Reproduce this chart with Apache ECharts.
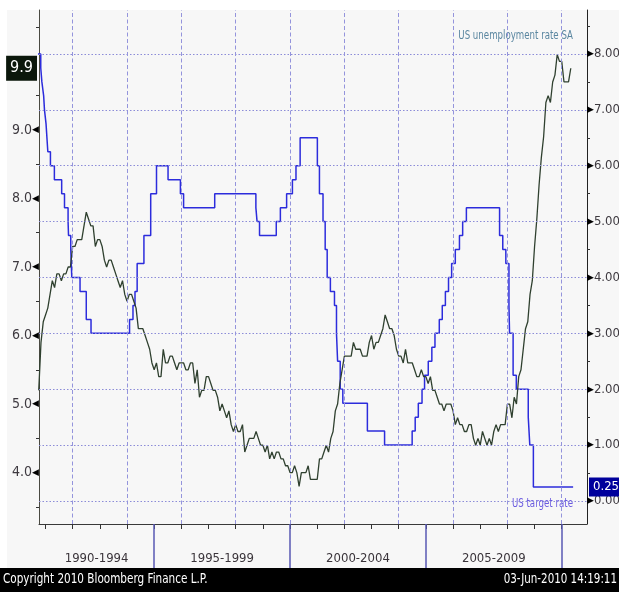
<!DOCTYPE html>
<html><head><meta charset="utf-8">
<script src="https://cdn.jsdelivr.net/npm/echarts@6/dist/echarts.min.js"></script>
<style>html,body{margin:0;padding:0;background:#fff}#c{width:619px;height:592px}</style>
</head><body><div id="c"></div>
<script>
// ---- data ----
const unemploymentStart = [1990, 9]; // first plotted month (month-end positions)
const unemploymentRate = [
  5.2, 5.9, 6.2, 6.3,
  6.4, 6.6, 6.8, 6.7, 6.9, 6.9, 6.8, 6.9, 6.9, 7.0, 7.0, 7.3,
  7.3, 7.4, 7.4, 7.4, 7.6, 7.8, 7.7, 7.6, 7.6, 7.3, 7.4, 7.4,
  7.3, 7.1, 7.0, 7.1, 7.1, 7.0, 6.9, 6.8, 6.7, 6.8, 6.6, 6.5,
  6.6, 6.6, 6.5, 6.4, 6.1, 6.1, 6.1, 6.0, 5.9, 5.8, 5.6, 5.5,
  5.6, 5.4, 5.4, 5.8, 5.6, 5.6, 5.7, 5.7, 5.6, 5.5, 5.6, 5.6,
  5.6, 5.5, 5.5, 5.6, 5.6, 5.3, 5.5, 5.1, 5.2, 5.2, 5.4, 5.4,
  5.3, 5.2, 5.2, 5.1, 4.9, 5.0, 4.9, 4.8, 4.9, 4.7, 4.6, 4.7,
  4.6, 4.6, 4.7, 4.3, 4.4, 4.5, 4.5, 4.5, 4.6, 4.5, 4.4, 4.4,
  4.3, 4.4, 4.2, 4.3, 4.2, 4.3, 4.3, 4.2, 4.2, 4.1, 4.1, 4.0,
  4.0, 4.1, 4.0, 3.8, 4.0, 4.0, 4.0, 4.1, 3.9, 3.9, 3.9, 3.9,
  4.2, 4.2, 4.3, 4.4, 4.3, 4.5, 4.6, 4.9, 5.0, 5.3, 5.5, 5.7,
  5.7, 5.7, 5.7, 5.9, 5.8, 5.8, 5.8, 5.7, 5.7, 5.7, 5.9, 6.0,
  5.8, 5.9, 5.9, 6.0, 6.1, 6.3, 6.2, 6.1, 6.1, 6.0, 5.8, 5.7,
  5.7, 5.6, 5.8, 5.6, 5.6, 5.6, 5.5, 5.4, 5.4, 5.5, 5.4, 5.4,
  5.3, 5.4, 5.2, 5.2, 5.1, 5.0, 5.0, 4.9, 5.0, 5.0, 5.0, 4.9,
  4.7, 4.8, 4.7, 4.7, 4.6, 4.6, 4.7, 4.7, 4.5, 4.4, 4.5, 4.4,
  4.6, 4.5, 4.4, 4.5, 4.4, 4.6, 4.7, 4.6, 4.7, 4.7, 4.7, 5.0,
  5.0, 4.8, 5.1, 5.0, 5.4, 5.5, 5.8, 6.1, 6.2, 6.6, 6.8, 7.3,
  7.7, 8.2, 8.6, 8.9, 9.4, 9.5, 9.4, 9.7, 9.8, 10.1, 10.0, 10.0,
  9.7, 9.7, 9.7, 9.9
];
const targetDates = [
  '1990-07-13','1990-10-29','1990-11-13','1990-12-07','1990-12-18','1991-01-08','1991-02-01','1991-03-08',
  '1991-04-30','1991-08-06','1991-09-13','1991-10-31','1991-11-06','1991-12-06','1991-12-20','1992-04-09',
  '1992-07-02','1992-09-04','1994-02-04','1994-03-22','1994-04-18','1994-05-17','1994-08-16','1994-11-15',
  '1995-02-01','1995-07-06','1995-12-19','1996-01-31','1997-03-25','1998-09-29','1998-10-15','1998-11-17',
  '1999-06-30','1999-08-24','1999-11-16','2000-02-02','2000-03-21','2000-05-16','2001-01-03','2001-01-31',
  '2001-03-20','2001-04-18','2001-05-15','2001-06-27','2001-08-21','2001-09-17','2001-10-02','2001-11-06',
  '2001-12-11','2002-11-06','2003-06-25','2004-06-30','2004-08-10','2004-09-21','2004-11-10','2004-12-14',
  '2005-02-02','2005-03-22','2005-05-03','2005-06-30','2005-08-09','2005-09-20','2005-11-01','2005-12-13',
  '2006-01-31','2006-03-28','2006-05-10','2006-06-29','2007-09-18','2007-10-31','2007-12-11','2008-01-22',
  '2008-01-30','2008-03-18','2008-04-30','2008-10-08','2008-10-29','2008-12-16','2010-06-03'
];
const targetRates = [
  8.00, 7.75, 7.50, 7.25, 7.00, 6.75, 6.25, 6.00,
  5.75, 5.50, 5.25, 5.00, 4.75, 4.50, 4.00, 3.75,
  3.25, 3.00, 3.25, 3.50, 3.75, 4.25, 4.75, 5.50,
  6.00, 5.75, 5.50, 5.25, 5.50, 5.25, 5.00, 4.75,
  5.00, 5.25, 5.50, 5.75, 6.00, 6.50, 6.00, 5.50,
  5.00, 4.50, 4.00, 3.75, 3.50, 3.00, 2.50, 2.00,
  1.75, 1.25, 1.00, 1.25, 1.50, 1.75, 2.00, 2.25,
  2.50, 2.75, 3.00, 3.25, 3.50, 3.75, 4.00, 4.25,
  4.50, 4.75, 5.00, 5.25, 4.75, 4.50, 4.25, 3.50,
  3.00, 2.25, 2.00, 1.50, 1.00, 0.25, 0.25
];
const lastUnemployment = 9.9;
const lastTarget = 0.25;
const leftLabelValues = [4, 5, 6, 7, 8, 9];
const leftMinorTicks = [3.5, 4.5, 5.5, 6.5, 7.5, 8.5, 9.5, 10.5];
const rightLabelValues = [0, 1, 2, 3, 4, 5, 6, 7, 8];
const rightMinorTicks = [0.5, 1.5, 2.5, 3.5, 4.5, 5.5, 6.5, 7.5, 8.5];
const yearTicks = [1991,1992,1993,1994,1995,1996,1997,1998,1999,2000,2001,2002,2003,2004,2005,2006,2007,2008,2009,2010];
const gridYears = [1992,1994,1996,1998,2000,2002,2004,2006,2008,2010];
const periodLabels = ['1990-1994', '1995-1999', '2000-2004', '2005-2009'];
const periodBounds = [1995, 2000, 2005, 2010];
const xRange = [1990.76, 2010.93];
const leftRange = [3.25, 10.75];
const rightRange = [-0.4125, 8.7875];

// ---- build ----
const FONT = "'DejaVu Sans Condensed','Liberation Sans Narrow',sans-serif";
function decYear(s) {
  const [y, m, d] = s.split('-').map(Number);
  const t0 = Date.UTC(y, 0, 1), t1 = Date.UTC(y + 1, 0, 1);
  return y + (Date.UTC(y, m - 1, d) - t0) / (t1 - t0);
}
const unempData = unemploymentRate.map((v, i) => {
  const mIdx = unemploymentStart[1] + i;
  return [unemploymentStart[0] + mIdx / 12, v];
});
const targetData = targetDates.map((d, i) => [decYear(d), targetRates[i]]);
const bounds = [xRange[0]].concat(periodBounds);
const periodCenters = periodLabels.map((_, i) => (bounds[i] + bounds[i + 1]) / 2);

const chart = echarts.init(document.getElementById('c'), null, {renderer: 'canvas'});
chart.setOption({
  animation: false,
  backgroundColor: '#f7f7f7',
  grid: {left: 39, right: 32, top: 10, bottom: 68, containLabel: false, outerBoundsMode: 'none'},
  xAxis: [{
    type: 'value', min: xRange[0], max: xRange[1], position: 'bottom',
    axisLine: {show: true, onZero: false, lineStyle: {color: '#3a3a3a', width: 1}},
    axisTick: {show: true, customValues: yearTicks, length: 5, lineStyle: {color: '#333'}},
    axisLabel: {show: true, customValues: periodCenters, margin: 28,
      formatter: v => { const i = periodCenters.findIndex(c => Math.abs(c - v) < 1e-3); return i >= 0 ? periodLabels[i] : ''; },
      fontSize: 13, color: '#3a343a', fontFamily: FONT},
    splitLine: {show: false}
  }, {
    type: 'value', min: xRange[0], max: xRange[1], position: 'bottom',
    axisLine: {show: false, onZero: false},
    axisTick: {show: true, customValues: periodBounds, length: 44, lineStyle: {color: '#5a5ab4', width: 1.5}},
    axisLabel: {show: false},
    splitLine: {show: false}
  }],
  yAxis: [{
    type: 'value', min: leftRange[0], max: leftRange[1], position: 'left',
    axisLine: {show: true, onZero: false, lineStyle: {color: '#4a4a42', width: 1}},
    axisTick: {show: true, customValues: leftMinorTicks, length: 3, lineStyle: {color: '#333'}},
    axisLabel: {show: true, customValues: leftLabelValues, margin: 0,
      formatter: v => '{t|' + v.toFixed(1) + '}{a|◀}',
      rich: {t: {fontSize: 14, color: '#3e3a40', fontFamily: FONT, verticalAlign: 'middle'},
             a: {fontSize: 9, color: '#000', fontFamily: 'DejaVu Sans', verticalAlign: 'middle'}}},
    splitLine: {show: false}
  }, {
    type: 'value', min: rightRange[0], max: rightRange[1], position: 'right',
    axisLine: {show: true, onZero: false, lineStyle: {color: '#222', width: 1}},
    axisTick: {show: true, customValues: rightMinorTicks, length: 3, lineStyle: {color: '#333'}},
    axisLabel: {show: true, customValues: rightLabelValues, margin: 0,
      formatter: v => '{a|▶}{t|' + v.toFixed(2) + '}',
      rich: {t: {fontSize: 13, color: '#3e3a40', fontFamily: FONT, verticalAlign: 'middle'},
             a: {fontSize: 9, color: '#000', fontFamily: 'DejaVu Sans', verticalAlign: 'middle'}}},
    splitLine: {show: false}
  }],
  series: [{
    name: 'grid', type: 'line', data: [], xAxisIndex: 0, yAxisIndex: 1, z: 1,
    markLine: {
      silent: true, symbol: ['none', 'none'], animation: false,
      label: {show: false},
      data: rightLabelValues.map(v => ({yAxis: v, lineStyle: {color: '#8c8cd8', width: 1.2, type: [1.5, 2]}}))
        .concat(gridYears.map(v => ({xAxis: v, lineStyle: {color: '#9494dc', width: 1, type: [4, 2.5]}})))
    }
  }, {
    name: 'US target rate', type: 'line', step: 'end', data: targetData,
    xAxisIndex: 0, yAxisIndex: 1, showSymbol: false, clip: true, z: 3,
    lineStyle: {color: '#2c2cdc', width: 1.5},
    markLine: {
      silent: true, symbol: ['none', 'none'], animation: false,
      lineStyle: {color: 'rgba(0,0,0,0)', width: 0},
      label: {show: true, position: 'end', distance: 2, formatter: lastTarget.toFixed(2),
        backgroundColor: '#00009c', color: '#fff', fontSize: 13, fontFamily: FONT, padding: [3, 8, 3, 4]},
      data: [{yAxis: lastTarget}]
    }
  }, {
    name: 'US unemployment rate SA', type: 'line', data: unempData,
    xAxisIndex: 0, yAxisIndex: 0, showSymbol: false, clip: true, z: 4,
    lineStyle: {color: '#2f402f', width: 1.3},
    markLine: {
      silent: true, symbol: ['none', 'none'], animation: false,
      lineStyle: {color: 'rgba(0,0,0,0)', width: 0},
      label: {show: true, position: 'start', distance: 2, formatter: lastUnemployment.toFixed(1),
        backgroundColor: '#0b170b', color: '#fff', fontSize: 16, fontFamily: FONT, padding: [5, 4, 4, 4]},
      data: [{yAxis: lastUnemployment}]
    }
  }],
  graphic: [
    {type: 'rect', left: 0, top: 0, shape: {width: 619, height: 10}, style: {fill: '#fff'}, silent: true, z: -1},
    {type: 'rect', left: 0, top: 0, shape: {width: 7, height: 568}, style: {fill: '#fff'}, silent: true, z: -1},
    {type: 'rect', left: 0, top: 568, shape: {width: 619, height: 24}, style: {fill: '#000'}, silent: true},
    {type: 'text', x: 3, y: 572, scaleX: 0.83, style: {text: 'Copyright 2010 Bloomberg Finance L.P.', fill: '#fff', font: '14px ' + FONT, align: 'left', verticalAlign: 'top'}},
    {type: 'text', x: 617, y: 572, scaleX: 0.82, style: {text: '03-Jun-2010 14:19:11', fill: '#fff', font: '14px ' + FONT, align: 'right', verticalAlign: 'top'}},
    {type: 'text', x: 573, y: 30, scaleX: 0.8, style: {text: 'US unemployment rate SA', fill: '#5a86a0', font: '12px ' + FONT, align: 'right', verticalAlign: 'top'}},
    {type: 'text', x: 573, y: 498, scaleX: 0.8, style: {text: 'US target rate', fill: '#6a5ae0', font: '12px ' + FONT, align: 'right', verticalAlign: 'top'}}
  ]
});
</script></body></html>
